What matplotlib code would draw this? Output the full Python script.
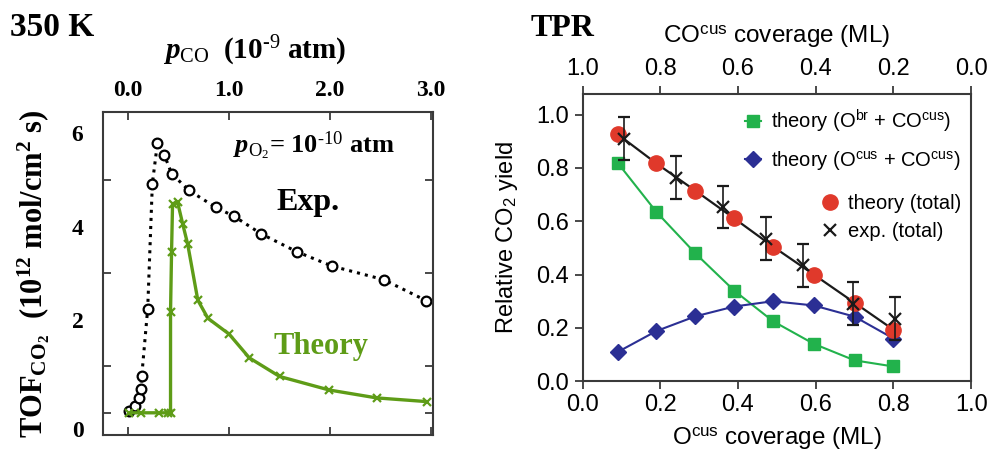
import matplotlib.pyplot as plt
from matplotlib.lines import Line2D

plt.rcParams['mathtext.fontset'] = 'custom'
plt.rcParams['mathtext.rm'] = 'Liberation Serif'
plt.rcParams['mathtext.it'] = 'Liberation Serif:italic:bold'
plt.rcParams['mathtext.bf'] = 'Liberation Serif:bold'
plt.rcParams['mathtext.sf'] = 'Liberation Sans'

# left panel: TOF vs p_CO at 350 K
exp_pco = [0.013, 0.069, 0.108, 0.125, 0.135, 0.194, 0.24, 0.29, 0.36, 0.43,
           0.60, 0.87, 1.05, 1.32, 1.67, 2.02, 2.53, 2.95]
exp_tof = [0.03, 0.15, 0.31, 0.51, 0.79, 2.24, 4.92, 5.79, 5.53, 5.14,
           4.78, 4.41, 4.22, 3.84, 3.46, 3.15, 2.86, 2.41]
th_pco = [0.01, 0.125, 0.31, 0.39, 0.42, 0.42, 0.43, 0.44, 0.49, 0.54,
          0.59, 0.69, 0.79, 1.0, 1.2, 1.5, 1.99, 2.46, 2.96]
th_tof = [0, 0, 0, 0, 0, 2.17, 3.45, 4.49, 4.52, 4.06,
          3.62, 2.42, 2.03, 1.69, 1.18, 0.78, 0.49, 0.32, 0.24]

# right panel: TPR relative CO2 yield
cov = [0.09, 0.19, 0.29, 0.39, 0.49, 0.595, 0.70, 0.80]
th_br = [0.82, 0.635, 0.48, 0.34, 0.225, 0.14, 0.078, 0.055]
th_cus = [0.109, 0.188, 0.243, 0.28, 0.30, 0.284, 0.242, 0.16]
th_total = [0.927, 0.817, 0.715, 0.611, 0.505, 0.40, 0.294, 0.193]
exp_cov = [0.106, 0.24, 0.362, 0.473, 0.567, 0.697, 0.803]
exp_total = [0.91, 0.764, 0.654, 0.535, 0.435, 0.291, 0.235]
exp_err = [0.08, 0.08, 0.08, 0.08, 0.08, 0.08, 0.08]

serif = 'Liberation Serif'
sans = 'Liberation Sans'
green = '#5e9c17'
frame = '#3a3a3a'

fig = plt.figure(figsize=(9.89, 4.5), dpi=100)

# ---------------- left panel ----------------
ax1 = fig.add_axes([0.104, 0.033, 0.334, 0.718])
ax1.plot(exp_pco, exp_tof, ':', color='black', lw=2.2, marker='o', ms=7,
         mfc='white', mec='black', mew=1.6)
ax1.plot(th_pco, th_tof, '-', color=green, lw=2.4, marker='x', ms=6,
         mew=1.6, mec=green)
ax1.set_xlim(-0.25, 3.02)
ax1.set_ylim(-0.48, 6.46)

ax1.xaxis.tick_top()
ax1.set_xticks([0, 1, 2, 3])
ax1.set_xticklabels(['0.0', '1.0', '2.0', '3.0'])
ax1.tick_params(axis='x', which='major', direction='in', top=True, bottom=True,
                length=6, width=1.3, color=frame, pad=8)
ax1.set_yticks([-0.34, 2, 4, 6])
ax1.set_yticklabels(['0', '2', '4', '6'])
ax1.set_yticks(range(0, 7), minor=True)
ax1.tick_params(axis='y', which='major', length=0, pad=14)
ax1.tick_params(axis='y', which='minor', direction='in', left=True, right=True,
                length=6, width=1.3, color=frame)
for lab in ax1.get_xticklabels() + ax1.get_yticklabels():
    lab.set_fontfamily(serif)
    lab.set_fontweight('bold')
    lab.set_fontsize(17)
for s in ax1.spines.values():
    s.set_color(frame)
    s.set_linewidth(1.5)

ax1.set_xlabel(r'$\mathit{p}_{\mathrm{CO}}$  (10$^{\text{-9}}$ atm)',
               family=serif, weight='bold', fontsize=21)
ax1.xaxis.set_label_position('top')
ax1.xaxis.set_label_coords(0.46, 1.165)
ax1.set_ylabel(r'TOF$_{\mathbf{CO}_{\mathbf{2}}}$  (10$^{\mathbf{12}}$ mol/cm$^{\mathbf{2}}$ s)',
               family=serif, weight='bold', fontsize=22, labelpad=14)
ax1.text(0.395, 0.895, r'$\mathit{p}_{\mathrm{O}_{\mathrm{2}}}$= 10$^{\text{-10}}$ atm',
         transform=ax1.transAxes, family=serif, weight='bold', fontsize=19,
         va='center')
ax1.text(0.62, 0.72, 'Exp.', transform=ax1.transAxes, family=serif,
         weight='bold', fontsize=23, ha='center', va='center')
ax1.text(0.66, 0.275, 'Theory', transform=ax1.transAxes, family=serif,
         weight='bold', fontsize=22, ha='center', va='center', color=green)
fig.text(0.010, 0.92, '350 K', family=serif, weight='bold', fontsize=24)

# ---------------- right panel ----------------
ax2 = fig.add_axes([0.589, 0.153, 0.393, 0.639])
l_br, = ax2.plot(cov, th_br, '-', color='#22b24c', lw=1.5, marker='s', ms=9,
                 mec='#22b24c', mfc='#22b24c')
l_cus, = ax2.plot(cov, th_cus, '-', color='#2b2f94', lw=1.5, marker='D', ms=8,
                  mec='#2b2f94', mfc='#2b2f94')
ax2.plot(cov, th_total, '-', color='#1a1a1a', lw=1.6, zorder=3)
l_tot, = ax2.plot(cov, th_total, 'o', color='#e0392b', ms=11, mec='#e0392b',
                  zorder=4, ls='none')
ax2.errorbar(exp_cov, exp_total, yerr=exp_err, fmt='x', color='#1a1a1a',
             ms=8, mew=1.6, elinewidth=1.2, capsize=4, capthick=1.2, zorder=5)
l_exp = Line2D([], [], marker='x', color='#1a1a1a', ls='none', ms=8, mew=1.6)

ax2.set_xlim(0, 1)
ax2.set_ylim(0, 1.079)
ax2.set_xticks([0, 0.2, 0.4, 0.6, 0.8, 1.0])
ax2.set_yticks([0, 0.2, 0.4, 0.6, 0.8, 1.0])
ax2.xaxis.set_major_formatter(plt.FormatStrFormatter('%.1f'))
ax2.yaxis.set_major_formatter(plt.FormatStrFormatter('%.1f'))
ax2.tick_params(direction='out', length=6, width=1.3, labelsize=17, color=frame)
for lab in ax2.get_xticklabels() + ax2.get_yticklabels():
    lab.set_fontfamily(sans)
for s in ax2.spines.values():
    s.set_color(frame)
    s.set_linewidth(1.5)

top = ax2.secondary_xaxis('top', functions=(lambda x: 1 - x, lambda x: 1 - x))
top.set_xticks([1.0, 0.8, 0.6, 0.4, 0.2, 0.0])
top.xaxis.set_major_formatter(plt.FormatStrFormatter('%.1f'))
top.tick_params(direction='out', length=6, width=1.3, labelsize=17, color=frame)
for lab in top.get_xticklabels():
    lab.set_fontfamily(sans)
top.spines['top'].set_visible(False)
top.set_xlabel(r'CO$^{\mathsf{cus}}$ coverage (ML)', family=sans, fontsize=17.5,
               labelpad=12)

ax2.set_xlabel(r'O$^{\mathsf{cus}}$ coverage (ML)', family=sans, fontsize=17.5,
               labelpad=6)
ax2.set_ylabel(r'Relative CO$_{\mathsf{2}}$ yield', family=sans, fontsize=17,
               labelpad=12)

leg1 = ax2.legend([l_br, l_cus],
                  [r'theory (O$^{\mathsf{br}}$ + CO$^{\mathsf{cus}}$)',
                   r'theory (O$^{\mathsf{cus}}$ + CO$^{\mathsf{cus}}$)'],
                  loc='upper right', bbox_to_anchor=(1.01, 1.0), frameon=False,
                  prop={'family': sans, 'size': 14.5}, handlelength=0.8,
                  handletextpad=0.5, labelspacing=0.75, borderaxespad=0.3)
ax2.add_artist(leg1)
ax2.legend([l_tot, l_exp], ['theory (total)', 'exp. (total)'],
           loc='upper right', bbox_to_anchor=(1.01, 0.70), frameon=False,
           prop={'family': sans, 'size': 14.5}, handlelength=0.8,
           handletextpad=0.5, labelspacing=0.45, borderaxespad=0.3)
fig.text(0.536, 0.92, 'TPR', family=serif, weight='bold', fontsize=23)

fig.savefig('out.png', dpi=100)
